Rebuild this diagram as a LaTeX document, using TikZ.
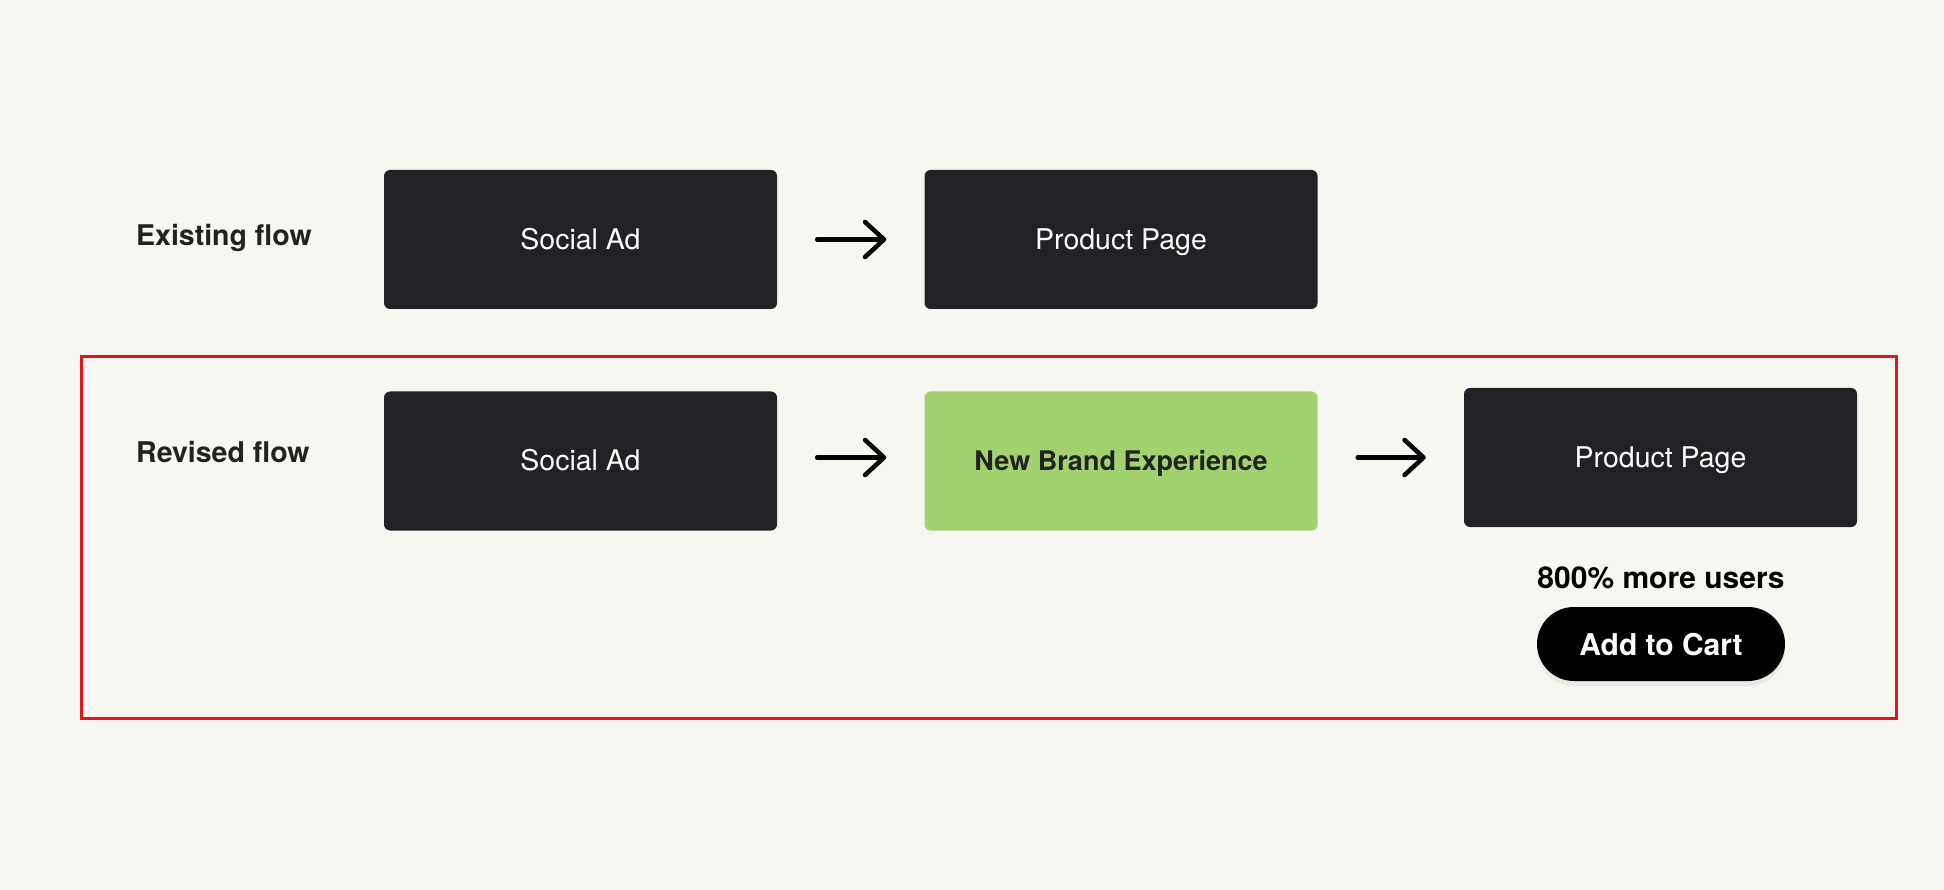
\documentclass[tikz,border=0pt]{standalone}
\usepackage{fontspec}
\setmainfont{TeX Gyre Heros}
\usetikzlibrary{arrows.meta,shadows}
\definecolor{bg}{HTML}{F7F6F1}
\definecolor{boxdark}{HTML}{212226}
\definecolor{brandgreen}{HTML}{A2D270}
\definecolor{framered}{HTML}{E5161B}
\definecolor{labeltext}{HTML}{222222}
\begin{document}
\begin{tikzpicture}[x=1pt,y=-1pt,
  flowbox/.style={rounded corners=6pt, minimum width=393pt, minimum height=139pt, inner sep=0pt,
    text height=21pt, text depth=1pt,
    font=\fontsize{28.5}{32}\selectfont, text=white, fill=boxdark},
  rowlabel/.style={anchor=west, font=\fontsize{28.5}{32}\selectfont\bfseries, text=labeltext, inner sep=0pt},
  flowarrow/.style={line width=4.5pt, line cap=round, -{Straight Barb[length=19pt,width=35pt,round]},
    shorten <=40pt, shorten >=38pt},
]
\fill[bg] (0,0) rectangle (1944,890);
\useasboundingbox (0,0) rectangle (1944,890);

% existing flow
\node[rowlabel] (lab1) at (136,238) {Existing flow};
\node[flowbox] (sa1) at (580.5,239.5) {Social Ad};
\node[flowbox] (pp1) at (1121,239.5) {Product Page};
\draw[flowarrow] (sa1.east) -- (pp1.west);

% revised flow frame
\draw[framered, line width=3pt] (81,357) rectangle (1896,718);

\node[rowlabel] (lab2) at (136,452) {Revised flow};
\node[flowbox] (sa2) at (580.5,461) {Social Ad};
\node[flowbox, fill=brandgreen, text=labeltext, font=\fontsize{27}{30}\selectfont\bfseries] (nbe) at (1121,461) {New Brand Experience};
\node[flowbox] (pp2) at (1660.5,457.5) {Product Page};
\coordinate (row2) at (0,457.5);
\draw[flowarrow] (sa2.east |- row2) -- (nbe.west |- row2);
\draw[flowarrow] (nbe.east |- row2) -- (pp2.west |- row2);

\node[font=\fontsize{30}{32}\selectfont\bfseries, text=black, inner sep=0pt] (more) at (1661,578) {800\% more users};
\node[fill=black, text=white, rounded corners=37pt, minimum width=248pt, minimum height=74pt, inner sep=0pt,
  text height=22pt, text depth=0pt,
  font=\fontsize{30}{32}\selectfont\bfseries,
  drop shadow={opacity=0.10, shadow xshift=0pt, shadow yshift=-5pt}] (cart) at (1661,644) {Add to Cart};
\end{tikzpicture}
\end{document}
